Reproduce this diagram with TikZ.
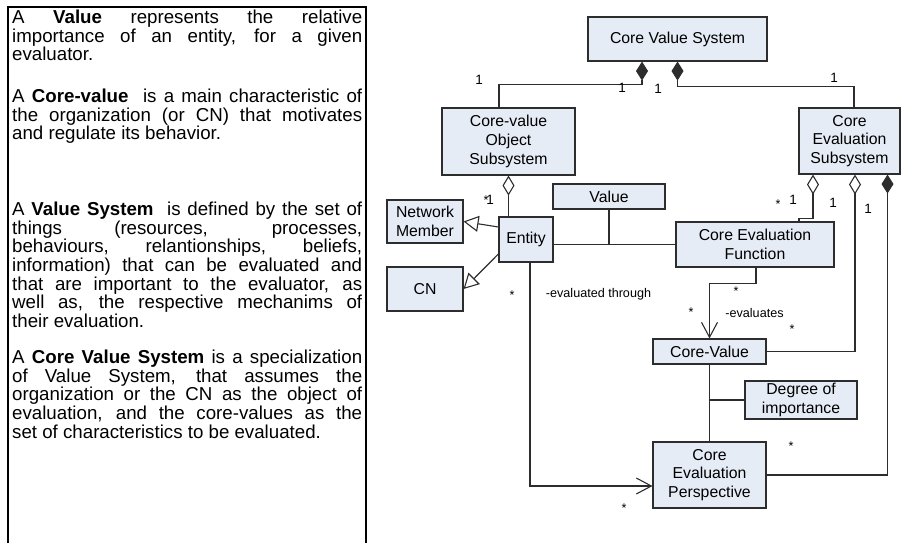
\documentclass[tikz,border=0pt]{standalone}
\usepackage{fontspec}
\setmainfont{Liberation Sans}
\usetikzlibrary{arrows.meta}
\definecolor{boxfill}{RGB}{230,236,246}
\definecolor{ink}{RGB}{45,45,45}
\newcommand{\jline}[1]{\hbox to 350pt{#1}}
\newcommand{\lline}[1]{\hbox{#1}}
\begin{document}
\begin{tikzpicture}[x=1pt,y=-1pt,
  box/.style={draw=ink, line width=1.1pt, fill=boxfill, inner sep=0pt, align=center, font=\fontsize{15.8}{18.8}\selectfont},
  ln/.style={draw=ink, line width=1.1pt},
  lab/.style={inner sep=0pt, font=\fontsize{12.6}{14}\selectfont},
  one/.style={inner sep=0pt, font=\fontsize{13.5}{14}\selectfont},
  para/.style={anchor=base west, inner sep=0pt, font=\fontsize{18.7}{18.6}\selectfont},
  comp/.style={{Diamond[fill=ink,length=19pt,width=12pt]}-},
  agg/.style={{Diamond[open,length=20pt,width=12pt]}-},
  gen/.style={-{Triangle[open,length=15pt,width=16pt]}},
  nav/.style={-{Straight Barb[length=15pt,width=16pt]}}
]
\useasboundingbox (0,0) rectangle (901,543);
% left definition panel
\draw[line width=1.2pt, black] (8,543) -- (8,7) -- (366,7) -- (366,543);
\node[para] (p1) at (12,23.7) {\vtop{\baselineskip=18.6pt
\jline{A \textbf{Value} represents the relative}
\jline{importance of an entity, for a given}
\lline{evaluator.}}};
\node[para] (p2) at (12,102.7) {\vtop{\baselineskip=18.6pt
\jline{A \textbf{Core-value}\ \ is a main characteristic of}
\jline{the organization (or CN) that motivates}
\lline{and regulate its behavior.}}};
\node[para] (p3) at (12,215.7) {\vtop{\baselineskip=18.6pt
\jline{A \textbf{Value System}\ \ is defined by the set of}
\jline{things (resources, processes,}
\jline{behaviours, relantionships, beliefs,}
\jline{information) that can be evaluated and}
\jline{that are important to the evaluator, as}
\jline{well as, the respective mechanims of}
\lline{their evaluation.}}};
\node[para] (p4) at (12,363.7) {\vtop{\baselineskip=18.6pt
\jline{A \textbf{Core Value System} is a specialization}
\jline{of Value System, that assumes the}
\jline{organization or the CN as the object of}
\jline{evaluation, and the core-values as the}
\lline{set of characteristics to be evaluated.}}};
% classes
\node[box, minimum width=179pt, minimum height=44pt] (cvs) at (677.5,39) {Core Value System};
\node[box, minimum width=133pt, minimum height=67pt] (cvos) at (508.5,141.5) {Core-value\\Object\\Subsystem};
\node[box, minimum width=101pt, minimum height=66pt] (ces) at (849.5,141) {Core\\Evaluation\\Subsystem};
\node[box, minimum width=76pt, minimum height=43pt] (nm) at (425,221.5) {Network\\Member};
\node[box, minimum width=76pt, minimum height=44pt] (cn) at (425,289) {CN};
\node[box, minimum width=54pt, minimum height=45pt] (ent) at (526,239.5) {Entity};
\node[box, minimum width=112pt, minimum height=25pt] (val) at (609,196.5) {Value};
\node[box, minimum width=158pt, minimum height=45pt] (cef) at (755,244.5) {Core Evaluation\\Function};
\node[box, minimum width=113pt, minimum height=25pt] (cv) at (709.5,351.5) {Core-Value};
\node[box, minimum width=112pt, minimum height=38pt] (doi) at (801,400) {Degree of\\importance};
\node[box, minimum width=113pt, minimum height=66pt] (cep) at (709.5,475) {Core\\Evaluation\\Perspective};
% connectors
\draw[ln, comp] ([xshift=-35.5pt]cvs.south) -- ++(0,23) -| ([xshift=-9.5pt]cvos.north);
\draw[ln, comp] (cvs.south) -- ++(0,25) -| ([xshift=4.5pt]ces.north);
\draw[ln, agg] (cvos.south) -- (cvos.south |- ent.north);
\draw[ln, gen] ([yshift=12.5pt]ent.west) -- (nm.east);
\draw[ln, gen] ([yshift=-14.5pt]ent.west) -- (cn.east);
\draw[ln] (ent.east |- cef.west) -- (cef.west);
\draw[ln] (val.south) -- (val.south |- cef.west);
\draw[ln, agg] ([xshift=-36.5pt]ces.south) -- ++(0,44) -| ([xshift=44pt]cef.north);
\draw[ln, agg] ([xshift=5.5pt]ces.south) |- (cv.east);
\draw[ln, comp] ([xshift=38pt]ces.south) |- (cep.east);
\draw[ln, nav] ([xshift=1pt]cef.south) -- ++(0,16) -| (cv.north);
\draw[ln, nav] ([xshift=4pt]ent.south) |- ([yshift=-11pt]cep.west);
\draw[ln] (cv.south) -- (cep.north);
\draw[ln] (doi.west) -- (doi.west -| cv.south);
% multiplicities and role names
\node[one] (l1) at (479,80) {1};
\node[one] (l2) at (622,88) {1};
\node[one] (l3) at (658,89) {1};
\node[one] (l4) at (834,78) {1};
\node[lab, anchor=base] (s1) at (486,204) {*};
\node[one] (l5) at (490,200) {1};
\node[lab, anchor=base] (s2) at (778,208) {*};
\node[one] (l6) at (793,200) {1};
\node[one] (l7) at (833,203) {1};
\node[one] (l8) at (868,209) {1};
\node[lab, anchor=base] (s3) at (512,299) {*};
\node[lab, anchor=base] (t1) at (598.5,297.5) {-evaluated through};
\node[lab, anchor=base] (s4) at (736,295) {*};
\node[lab, anchor=base] (s5) at (691,316) {*};
\node[lab, anchor=base] (t2) at (754.5,317.5) {-evaluates};
\node[lab, anchor=base] (s6) at (792,333) {*};
\node[lab, anchor=base] (s7) at (791,450) {*};
\node[lab, anchor=base] (s8) at (624,512) {*};
\end{tikzpicture}
\end{document}
